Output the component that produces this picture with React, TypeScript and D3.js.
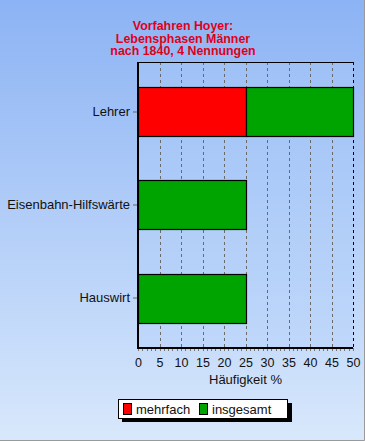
import { useEffect, useRef } from "react"
import * as d3 from "d3"

const categories = ["Lehrer", "Eisenbahn-Hilfswärte", "Hauswirt"]
const mehrfach = [25, 0, 0]
const insgesamt = [25, 25, 25]
const seriesNames = ["mehrfach", "insgesamt"]
const seriesColors = ["#ff0000", "#00a400"]
const xTicks = [0, 5, 10, 15, 20, 25, 30, 35, 40, 45, 50]
const titleLines = ["Vorfahren Hoyer:", "Lebensphasen Männer", "nach 1840, 4 Nennungen"]

const W = 365, H = 441
const margin = { top: 62, right: 12, bottom: 93, left: 138 }

const App = () => {
    const ref = useRef<SVGSVGElement>(null)

    useEffect(() => {
        document.body.style.margin = "0"
        const svg = d3.select(ref.current)
        svg.selectAll("*").remove()

        const defs = svg.append("defs")
        const grad = defs.append("linearGradient")
            .attr("id", "bgGrad")
            .attr("x1", "0%").attr("x2", "0%")
            .attr("y1", "0%").attr("y2", "100%")
        grad.append("stop").attr("offset", "0%").attr("stop-color", "#8cb3f4")
        grad.append("stop").attr("offset", "100%").attr("stop-color", "#d8e8fc")

        svg.append("rect")
            .attr("width", W).attr("height", H)
            .attr("fill", "url(#bgGrad)")
        // outer frame
        svg.append("path")
            .attr("d", `M${W - 0.5},0 V${H - 0.5} H0`)
            .attr("fill", "none").attr("stroke", "#9a9a9a")

        const x0 = margin.left, x1 = W - margin.right
        const y0 = margin.top, y1 = H - margin.bottom
        const x = d3.scaleLinear().domain([0, 50]).range([x0, x1])
        const y = d3.scaleBand<string>().domain(categories).range([y0, y1])
            .paddingInner(0.473).paddingOuter(0.274)

        const font = "Arial, 'Liberation Sans', sans-serif"

        // title
        svg.append("g").selectAll("text")
            .data(titleLines)
            .enter()
            .append("text")
            .attr("x", 183)
            .attr("y", (d, i) => 30 + i * 12.7)
            .attr("text-anchor", "middle")
            .attr("font-family", font)
            .attr("font-weight", "bold")
            .attr("font-size", "12.4px")
            .attr("fill", "#e0001a")
            .text(d => d)

        // plot background
        svg.append("rect")
            .attr("x", x0).attr("y", y0)
            .attr("width", x1 - x0).attr("height", y1 - y0)
            .attr("fill", "#b0cdf8").attr("opacity", 0.35)

        // grid
        svg.append("g").selectAll("line")
            .data(xTicks.slice(1))
            .enter()
            .append("line")
            .attr("x1", d => Math.round(x(d)) + 0.5)
            .attr("x2", d => Math.round(x(d)) + 0.5)
            .attr("y1", y0).attr("y2", y1)
            .attr("stroke", d => d === 50 ? "#000" : "#6a6a6a")
            .attr("stroke-dasharray", "3,3")

        // top border
        svg.append("line")
            .attr("x1", x0).attr("x2", x1)
            .attr("y1", y0 + 0.5).attr("y2", y0 + 0.5)
            .attr("stroke", "#000")

        // stacked bars
        const stackData = categories.map((c, i) => ({ cat: c, mehrfach: mehrfach[i], insgesamt: insgesamt[i] }))
        const stacked = d3.stack<any>().keys(seriesNames)(stackData)
        stacked.forEach((layer, si) => {
            svg.append("g").selectAll("rect")
                .data(layer.filter(d => d[1] - d[0] > 0))
                .enter()
                .append("rect")
                .attr("x", d => Math.round(x(d[0])) + 0.5)
                .attr("width", d => Math.round(x(d[1])) - Math.round(x(d[0])))
                .attr("y", d => Math.round(y(d.data.cat)!) + 0.5)
                .attr("height", Math.round(y.bandwidth()))
                .attr("fill", seriesColors[si])
                .attr("stroke", "#000")
                .attr("stroke-width", 1.2)
        })

        // y axis
        const yAxis = svg.append("g")
            .attr("transform", `translate(${x0},0)`)
            .call(d3.axisLeft(y).tickSize(5).tickPadding(3))
        yAxis.select(".domain").remove()
        yAxis.selectAll("line").attr("stroke", "#666")
        yAxis.selectAll("text")
            .attr("font-family", font).attr("font-size", "13px").attr("fill", "#111")
        svg.append("line")
            .attr("x1", x0).attr("x2", x0)
            .attr("y1", y0).attr("y2", y1 + 1)
            .attr("stroke", "#000").attr("stroke-width", 2)

        // x axis minor ticks
        svg.append("g").selectAll("line")
            .data(d3.range(0, 51, 1))
            .enter()
            .append("line")
            .attr("x1", d => Math.round(x(d)) + 0.5)
            .attr("x2", d => Math.round(x(d)) + 0.5)
            .attr("y1", y1).attr("y2", y1 + 3)
            .attr("stroke", "#777")

        const xAxis = svg.append("g")
            .attr("transform", `translate(0,${y1})`)
            .call(d3.axisBottom(x).tickValues(xTicks).tickSize(0).tickPadding(10))
        xAxis.select(".domain").remove()
        xAxis.selectAll("text")
            .attr("font-family", font).attr("font-size", "12.5px").attr("fill", "#111")
        svg.append("line")
            .attr("x1", x0 - 1).attr("x2", x1)
            .attr("y1", y1).attr("y2", y1)
            .attr("stroke", "#000").attr("stroke-width", 2)

        svg.append("text")
            .attr("x", (x0 + x1) / 2)
            .attr("y", 384)
            .attr("text-anchor", "middle")
            .attr("font-family", font).attr("font-size", "13px").attr("fill", "#111")
            .text("Häufigkeit %")

        // legend
        const lg = svg.append("g").attr("transform", "translate(118,399)")
        lg.append("rect").attr("x", 4).attr("y", 4).attr("width", 170).attr("height", 19).attr("fill", "#000")
        lg.append("rect").attr("x", 0.5).attr("y", 0.5).attr("width", 169).attr("height", 19)
            .attr("fill", "#fff").attr("stroke", "#000")
        const items = lg.selectAll("g.item")
            .data(seriesNames)
            .enter()
            .append("g")
            .attr("transform", (d, i) => `translate(${i === 0 ? 5 : 81},0)`)
        items.append("rect")
            .attr("x", 0.5).attr("y", 4.5).attr("width", 8).attr("height", 11)
            .attr("fill", (d, i) => seriesColors[i]).attr("stroke", "#000")
        items.append("text")
            .attr("x", 13).attr("y", 15)
            .attr("font-family", font).attr("font-size", "13px").attr("fill", "#111")
            .text(d => d)
    }, [])

    return <svg ref={ref} width={W} height={H} style={{ display: "block" }} />
}
export default App
